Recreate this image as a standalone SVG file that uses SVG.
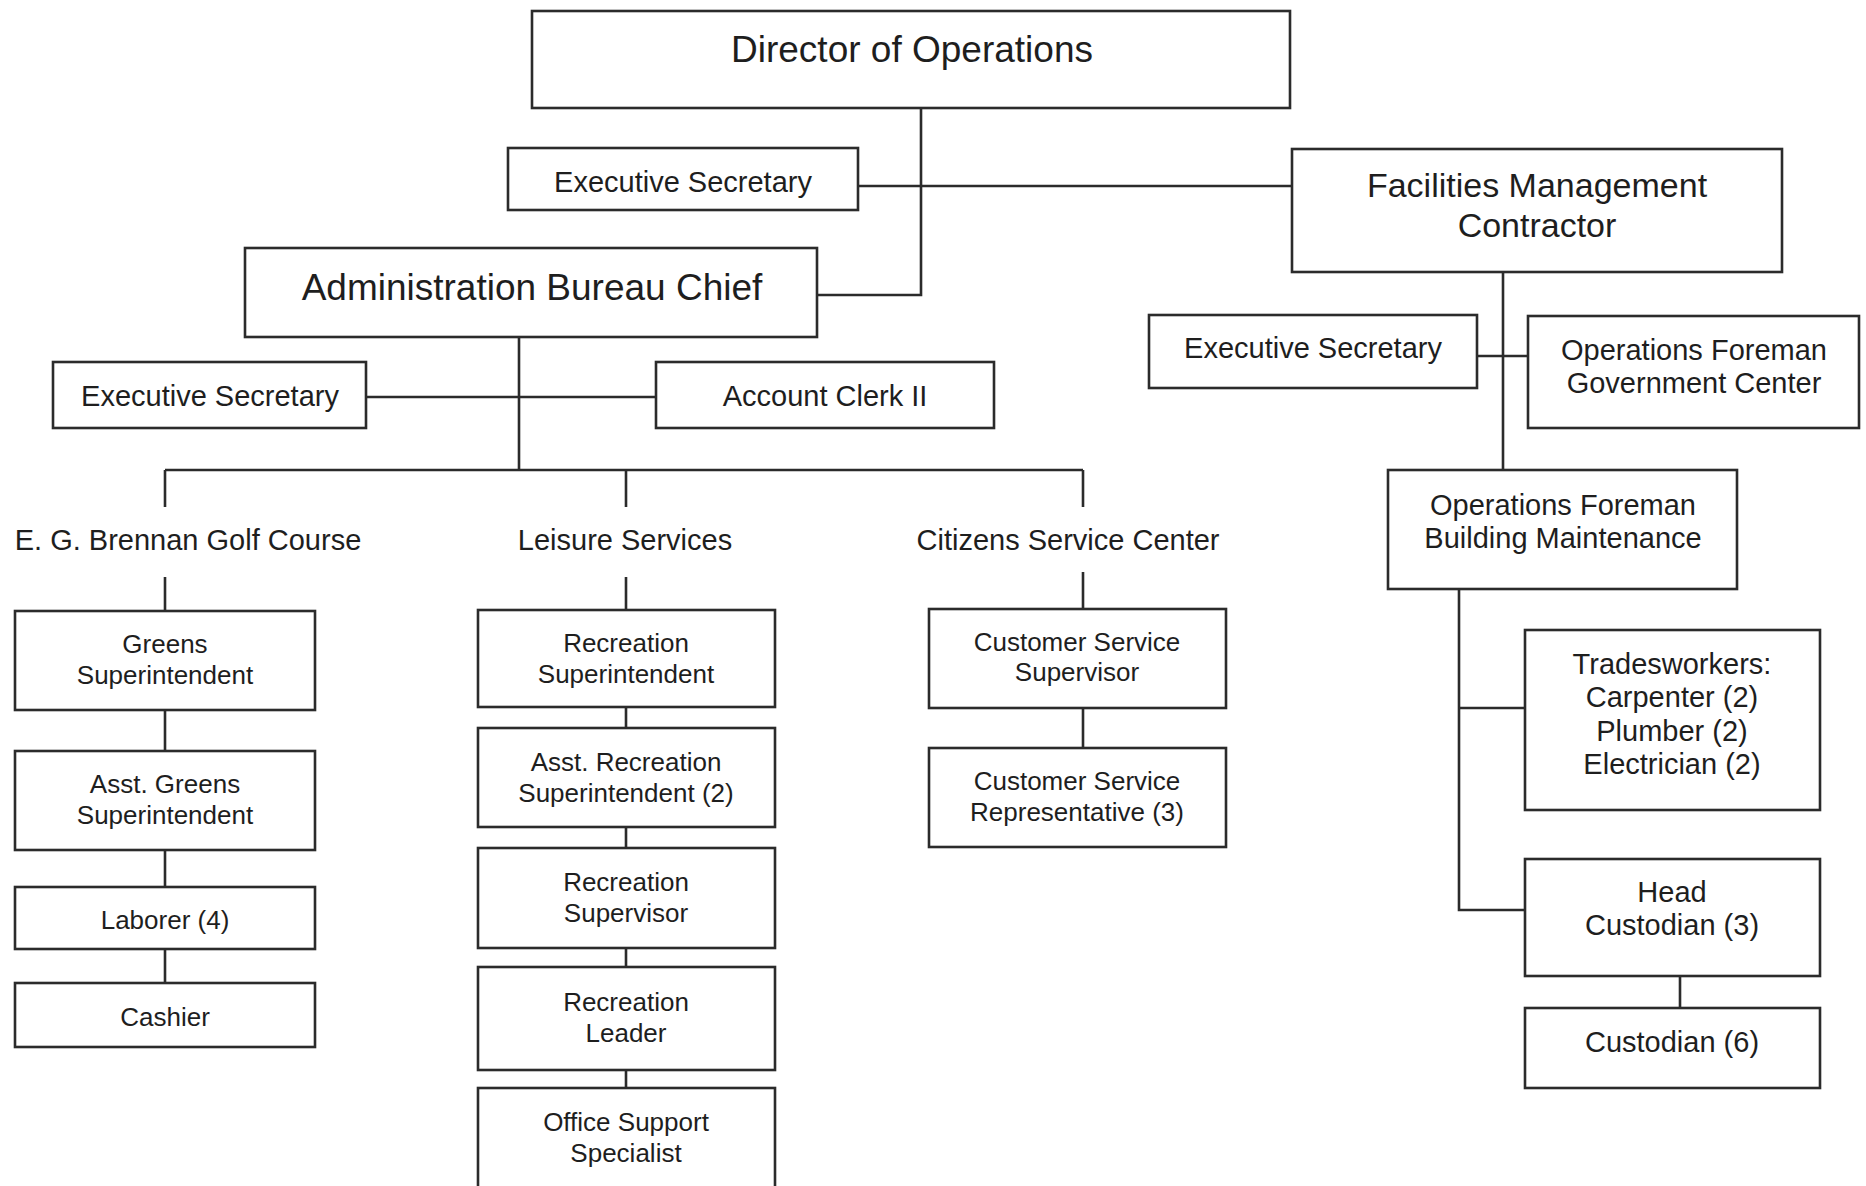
<svg xmlns="http://www.w3.org/2000/svg" width="1866" height="1186" viewBox="0 0 1866 1186">
  <style>
    .box { fill: #ffffff; stroke: #2b2b2b; stroke-width: 2.6; }
    .wire { fill: none; stroke: #2b2b2b; stroke-width: 2.6; }
    text { font-family: "Liberation Sans", Arial, sans-serif; fill: #1e1e1e; text-anchor: middle; }
    .t37 { font-size: 37px; }
    .t34 { font-size: 34px; }
    .t29 { font-size: 29px; }
    .t26 { font-size: 26px; }
  </style>
  <rect width="1866" height="1186" fill="#ffffff"/>

  <!-- reporting lines -->
  <g id="connectors">
    <polyline class="wire" points="921,108 921,295 817,295"/>
    <line class="wire" x1="858" y1="186" x2="1292" y2="186"/>
    <line class="wire" x1="519" y1="337" x2="519" y2="470"/>
    <line class="wire" x1="366" y1="397" x2="656" y2="397"/>
    <line class="wire" x1="165" y1="470" x2="1083" y2="470"/>
    <line class="wire" x1="165" y1="470" x2="165" y2="507"/>
    <line class="wire" x1="626" y1="470" x2="626" y2="507"/>
    <line class="wire" x1="1083" y1="470" x2="1083" y2="507"/>
    <!-- golf course column -->
    <line class="wire" x1="165" y1="577" x2="165" y2="611"/>
    <line class="wire" x1="165" y1="710" x2="165" y2="751"/>
    <line class="wire" x1="165" y1="850" x2="165" y2="887"/>
    <line class="wire" x1="165" y1="949" x2="165" y2="983"/>
    <!-- leisure column -->
    <line class="wire" x1="626" y1="577" x2="626" y2="610"/>
    <line class="wire" x1="626" y1="707" x2="626" y2="728"/>
    <line class="wire" x1="626" y1="827" x2="626" y2="848"/>
    <line class="wire" x1="626" y1="948" x2="626" y2="967"/>
    <line class="wire" x1="626" y1="1070" x2="626" y2="1088"/>
    <!-- citizens column -->
    <line class="wire" x1="1083" y1="572" x2="1083" y2="609"/>
    <line class="wire" x1="1083" y1="708" x2="1083" y2="748"/>
    <!-- facilities side -->
    <line class="wire" x1="1503" y1="272" x2="1503" y2="470"/>
    <line class="wire" x1="1477" y1="356" x2="1528" y2="356"/>
    <polyline class="wire" points="1459,589 1459,910 1525,910"/>
    <line class="wire" x1="1459" y1="708" x2="1525" y2="708"/>
    <line class="wire" x1="1680" y1="976" x2="1680" y2="1008"/>
  </g>

  <g id="director">
    <rect class="box" x="532" y="11" width="758" height="97"/>
    <text class="t37" x="912" y="62">Director of Operations</text>
  </g>
  <g id="exec-sec-director">
    <rect class="box" x="508" y="148" width="350" height="62"/>
    <text class="t29" x="683" y="192">Executive Secretary</text>
  </g>
  <g id="facilities-contractor">
    <rect class="box" x="1292" y="149" width="490" height="123"/>
    <text class="t34" x="1537" y="197">Facilities Management</text>
    <text class="t34" x="1537" y="237">Contractor</text>
  </g>
  <g id="admin-chief">
    <rect class="box" x="245" y="248" width="572" height="89"/>
    <text class="t37" x="532" y="300">Administration Bureau Chief</text>
  </g>
  <g id="exec-sec-admin">
    <rect class="box" x="53" y="362" width="313" height="66"/>
    <text class="t29" x="210" y="406">Executive Secretary</text>
  </g>
  <g id="account-clerk">
    <rect class="box" x="656" y="362" width="338" height="66"/>
    <text class="t29" x="825" y="406">Account Clerk II</text>
  </g>
  <g id="exec-sec-facilities">
    <rect class="box" x="1149" y="315" width="328" height="73"/>
    <text class="t29" x="1313" y="358">Executive Secretary</text>
  </g>
  <g id="foreman-gov-center">
    <rect class="box" x="1528" y="316" width="331" height="112"/>
    <text class="t29" x="1694" y="360">Operations Foreman</text>
    <text class="t29" x="1694" y="393">Government Center</text>
  </g>
  <g id="foreman-building">
    <rect class="box" x="1388" y="470" width="349" height="119"/>
    <text class="t29" x="1563" y="515">Operations Foreman</text>
    <text class="t29" x="1563" y="548">Building Maintenance</text>
  </g>

  <!-- division headings -->
  <g id="golf-course">
    <text class="t29" x="188" y="550">E. G. Brennan Golf Course</text>
  </g>
  <g id="leisure-services">
    <text class="t29" x="625" y="550">Leisure Services</text>
  </g>
  <g id="citizens-center">
    <text class="t29" x="1068" y="550">Citizens Service Center</text>
  </g>

  <!-- golf course staff -->
  <g id="greens-super">
    <rect class="box" x="15" y="611" width="300" height="99"/>
    <text class="t26" x="165" y="653">Greens</text>
    <text class="t26" x="165" y="684">Superintendent</text>
  </g>
  <g id="asst-greens-super">
    <rect class="box" x="15" y="751" width="300" height="99"/>
    <text class="t26" x="165" y="793">Asst. Greens</text>
    <text class="t26" x="165" y="824">Superintendent</text>
  </g>
  <g id="laborer">
    <rect class="box" x="15" y="887" width="300" height="62"/>
    <text class="t26" x="165" y="929">Laborer (4)</text>
  </g>
  <g id="cashier">
    <rect class="box" x="15" y="983" width="300" height="64"/>
    <text class="t26" x="165" y="1026">Cashier</text>
  </g>

  <!-- leisure services staff -->
  <g id="rec-super">
    <rect class="box" x="478" y="610" width="297" height="97"/>
    <text class="t26" x="626" y="652">Recreation</text>
    <text class="t26" x="626" y="683">Superintendent</text>
  </g>
  <g id="asst-rec-super">
    <rect class="box" x="478" y="728" width="297" height="99"/>
    <text class="t26" x="626" y="771">Asst. Recreation</text>
    <text class="t26" x="626" y="802">Superintendent (2)</text>
  </g>
  <g id="rec-supervisor">
    <rect class="box" x="478" y="848" width="297" height="100"/>
    <text class="t26" x="626" y="891">Recreation</text>
    <text class="t26" x="626" y="922">Supervisor</text>
  </g>
  <g id="rec-leader">
    <rect class="box" x="478" y="967" width="297" height="103"/>
    <text class="t26" x="626" y="1011">Recreation</text>
    <text class="t26" x="626" y="1042">Leader</text>
  </g>
  <g id="office-support">
    <rect class="box" x="478" y="1088" width="297" height="110"/>
    <text class="t26" x="626" y="1131">Office Support</text>
    <text class="t26" x="626" y="1162">Specialist</text>
  </g>

  <!-- citizens service staff -->
  <g id="cs-supervisor">
    <rect class="box" x="929" y="609" width="297" height="99"/>
    <text class="t26" x="1077" y="651">Customer Service</text>
    <text class="t26" x="1077" y="681">Supervisor</text>
  </g>
  <g id="cs-rep">
    <rect class="box" x="929" y="748" width="297" height="99"/>
    <text class="t26" x="1077" y="790">Customer Service</text>
    <text class="t26" x="1077" y="821">Representative (3)</text>
  </g>

  <!-- building maintenance staff -->
  <g id="tradesworkers">
    <rect class="box" x="1525" y="630" width="295" height="180"/>
    <text class="t29" x="1672" y="674">Tradesworkers:</text>
    <text class="t29" x="1672" y="707">Carpenter (2)</text>
    <text class="t29" x="1672" y="741">Plumber (2)</text>
    <text class="t29" x="1672" y="774">Electrician (2)</text>
  </g>
  <g id="head-custodian">
    <rect class="box" x="1525" y="859" width="295" height="117"/>
    <text class="t29" x="1672" y="902">Head</text>
    <text class="t29" x="1672" y="935">Custodian (3)</text>
  </g>
  <g id="custodian">
    <rect class="box" x="1525" y="1008" width="295" height="80"/>
    <text class="t29" x="1672" y="1052">Custodian (6)</text>
  </g>
</svg>
